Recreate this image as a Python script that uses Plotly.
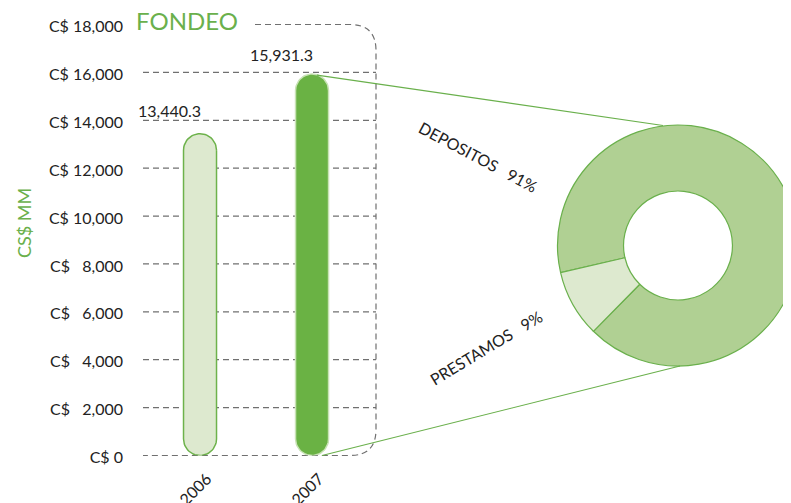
import math
import plotly.graph_objects as go

W, H = 791, 503

years = ["2006", "2007"]
fondeo = [13440.3, 15931.3]
fondeo_text = ["13,440.3", "15,931.3"]
bar_fill = ["#dde9cf", "#6ab244"]
bar_edge = ["#6db24b", "#c8e2b5"]
label_lift = [12, 8]

y_ticks = [0, 2000, 4000, 6000, 8000, 10000, 12000, 14000, 16000, 18000]
y_ticktext = ["C$ 0", "C$\u00a0\u00a0\u00a02,000", "C$\u00a0\u00a0\u00a04,000",
              "C$\u00a0\u00a0\u00a06,000", "C$\u00a0\u00a0\u00a08,000", "C$ 10,000",
              "C$ 12,000", "C$ 14,000", "C$ 16,000", "C$ 18,000"]

mix_labels = ["DEPOSITOS", "PRESTAMOS"]
mix_values = [91, 9]
mix_colors = ["#b0d093", "#dde9cf"]

GREEN = "#6ab04c"
GRID = "#707070"
TEXT = "#222222"
FONT = "Lato"

# the page puts the figure 8px in from the window corner
OFF = 8


def sx(x):
    return (x - OFF) / W


def sy(y):
    return 1 - (y - OFF) / H


# bar chart plot area, window pixels
X0, X1 = 143, 376
Y_BOT, Y_TOP = 455.5, 24.5
Y_MAX = 18000
X_RANGE = [-0.509, 1.571]


def ypix(v):
    return Y_BOT - v * (Y_BOT - Y_TOP) / Y_MAX


fig = go.Figure()

# capsule-shaped bars, outline built in data units from the axis scales
ux = (X_RANGE[1] - X_RANGE[0]) / (X1 - X0)   # x units per pixel
uy = Y_MAX / (Y_BOT - Y_TOP)                 # y units per pixel
half_px = 16.5
for i, (yr, v) in enumerate(zip(years, fondeo)):
    cy_top = v - half_px * uy
    cy_bot = half_px * uy
    xs, ys = [], []
    for k in range(0, 31):
        a = math.pi * k / 30
        xs.append(i + half_px * ux * math.cos(a))
        ys.append(cy_top + half_px * uy * math.sin(a))
    for k in range(0, 31):
        a = math.pi + math.pi * k / 30
        xs.append(i + half_px * ux * math.cos(a))
        ys.append(cy_bot + half_px * uy * math.sin(a))
    xs.append(xs[0])
    ys.append(ys[0])
    fig.add_trace(go.Scatter(
        x=xs, y=ys, mode="lines", fill="toself", fillcolor=bar_fill[i],
        line=dict(color=bar_edge[i], width=1.5),
        hoverinfo="skip", showlegend=False,
    ))

fig.add_trace(go.Pie(
    labels=mix_labels, values=mix_values, sort=False, direction="clockwise",
    rotation=-103, hole=0.452,
    marker=dict(colors=mix_colors, line=dict(color=GREEN, width=1.2)),
    textinfo="none", showlegend=False,
    domain=dict(x=[sx(557.5), min(1.0, sx(798.5))], y=[sy(366), sy(125)]),
))

shapes = []
for v in y_ticks[1:-1]:
    shapes.append(dict(
        type="line", xref="paper", yref="y", x0=sx(X0), x1=sx(X1), y0=v, y1=v,
        line=dict(color=GRID, width=1.2, dash="6px,4px"), layer="below",
    ))

# dashed rounded frame around the chart (top, right side, bottom)
r = 26
yt, yb = ypix(Y_MAX), ypix(0)
frame = (f"M {sx(255)},{sy(yt)} L {sx(X1 - r)},{sy(yt)} "
         f"Q {sx(X1)},{sy(yt)} {sx(X1)},{sy(yt + r)} "
         f"L {sx(X1)},{sy(yb - r)} Q {sx(X1)},{sy(yb)} {sx(X1 - r)},{sy(yb)} "
         f"L {sx(X0)},{sy(yb)}")
shapes.append(dict(type="path", xref="paper", yref="paper", path=frame,
                   line=dict(color=GRID, width=1.2, dash="6px,4px"), layer="below"))

# connectors from the 2007 bar to the donut
shapes.append(dict(type="line", xref="paper", yref="paper",
                   x0=sx(317), y0=sy(ypix(fondeo[1]) + 1), x1=sx(663), y1=sy(125.5),
                   line=dict(color=GREEN, width=1.2)))
shapes.append(dict(type="line", xref="paper", yref="paper",
                   x0=sx(322), y0=sy(ypix(0)), x1=sx(680), y1=sy(366),
                   line=dict(color=GREEN, width=1.2)))

annotations = [
    dict(text="FONDEO", x=sx(135), y=sy(21), xref="paper", yref="paper",
         xanchor="left", yanchor="middle", showarrow=False, borderpad=0,
         font=dict(size=24, color=GREEN, family=FONT)),
    dict(text="CS$ MM", x=sx(24), y=sy(223), xref="paper", yref="paper",
         textangle=-90, xanchor="center", yanchor="middle", showarrow=False,
         font=dict(size=18, color=GREEN, family=FONT)),
    dict(text="DEPOSITOS\u00a0\u00a0\u00a091%", x=sx(478), y=sy(156), xref="paper", yref="paper",
         textangle=28, xanchor="center", yanchor="middle", showarrow=False,
         font=dict(size=16, color=TEXT, family=FONT)),
    dict(text="PRESTAMOS\u00a0\u00a0\u00a09%", x=sx(486), y=sy(347), xref="paper", yref="paper",
         textangle=-31, xanchor="center", yanchor="middle", showarrow=False,
         font=dict(size=16, color=TEXT, family=FONT)),
]
for i, (v, t) in enumerate(zip(fondeo, fondeo_text)):
    annotations.append(dict(
        text=t, x=i, y=v, xref="x", yref="y", xanchor="right", yanchor="bottom",
        xshift=3, yshift=label_lift[i], showarrow=False,
        font=dict(size=16, color=TEXT, family=FONT),
    ))

fig.update_layout(
    width=W, height=H, autosize=False,
    margin=dict(l=0, r=0, t=0, b=0, pad=0, autoexpand=False),
    paper_bgcolor="white", plot_bgcolor="white",
    font=dict(family=FONT, size=16, color=TEXT),
    shapes=shapes,
    annotations=annotations,
    xaxis=dict(
        domain=[sx(X0), sx(X1)], range=X_RANGE, automargin=False,
        tickvals=[0, 1], ticktext=years,
        showgrid=False, zeroline=False, showline=False, ticks="",
        tickangle=-45, ticklabelstandoff=10, ticklabelshift=7,
        tickfont=dict(size=16, color=TEXT),
    ),
    yaxis=dict(
        domain=[sy(Y_BOT), sy(Y_TOP)], range=[0, Y_MAX], automargin=False,
        tickvals=y_ticks, ticktext=y_ticktext,
        showgrid=False, zeroline=False, showline=False, ticks="",
        ticklabelstandoff=19, ticklabelshift=2, tickfont=dict(size=16, color=TEXT),
    ),
)

fig.write_html("out.html")
